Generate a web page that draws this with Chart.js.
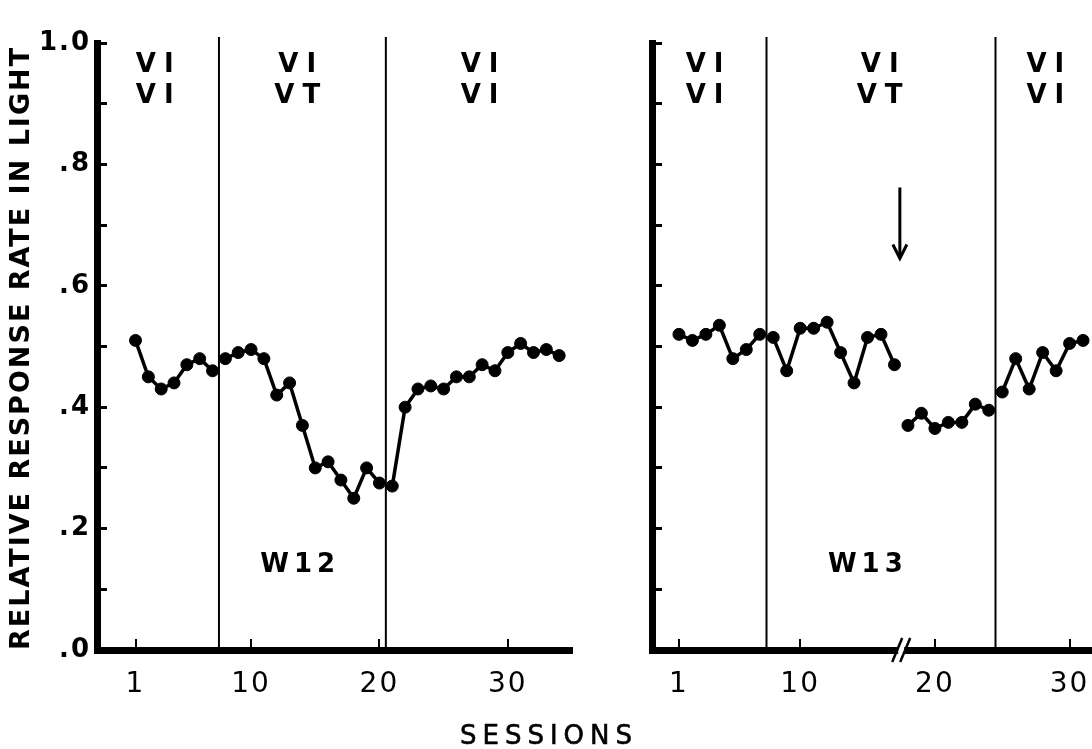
<!DOCTYPE html>
<html>
<head>
<meta charset="utf-8">
<script src="https://cdn.jsdelivr.net/npm/chart.js@4/dist/chart.umd.min.js"></script>
<style>
  html, body { margin: 0; padding: 0; background: #fff; overflow: hidden; width: 1092px; height: 749px; }
  #w12 { position: absolute; left: 0; top: 0; }
  #w13 { position: absolute; left: 600px; top: 0; }
  #sessions {
    position: absolute; left: 0; top: 722px; width: 1092px;
    text-align: center; font: 26px 'DejaVu Sans'; line-height: 1;
    letter-spacing: 6px; text-indent: 6px; color: #000;
    -webkit-text-stroke: 0.6px #000;
  }
</style>
</head>
<body>
<canvas id="w12" width="600" height="749"></canvas>
<canvas id="w13" width="520" height="749"></canvas>
<div id="sessions">SESSIONS</div>
<script>
// ---- values ----
const yTickLabels = ['.0', '.2', '.4', '.6', '.8', '1.0'];
const xTickValues = [1, 10, 20, 30];

// subject W12
const w12SessionsA = [1, 2, 3, 4, 5, 6, 7];
const w12RatesA = [0.51, 0.45, 0.43, 0.44, 0.47, 0.48, 0.46];
const w12SessionsB = [8, 9, 10, 11, 12, 13, 14, 15, 16, 17, 18, 19, 20];
const w12RatesB = [0.48, 0.49, 0.495, 0.48, 0.42, 0.44, 0.37, 0.30, 0.31, 0.28, 0.25, 0.30, 0.275];
const w12SessionsC = [21, 22, 23, 24, 25, 26, 27, 28, 29, 30, 31, 32, 33, 34];
const w12RatesC = [0.27, 0.40, 0.43, 0.435, 0.43, 0.45, 0.45, 0.47, 0.46, 0.49, 0.505, 0.49, 0.495, 0.485];

// subject W13
const w13SessionsA = [1, 2, 3, 4, 5, 6, 7];
const w13RatesA = [0.52, 0.51, 0.52, 0.535, 0.48, 0.495, 0.52];
const w13SessionsB = [8, 9, 10, 11, 12, 13, 14, 15, 16, 17];
const w13RatesB = [0.515, 0.46, 0.53, 0.53, 0.54, 0.49, 0.44, 0.515, 0.52, 0.47];
const w13SessionsC = [18, 19, 20, 21, 22, 23, 24];
const w13RatesC = [0.37, 0.39, 0.365, 0.375, 0.375, 0.405, 0.395];
const w13SessionsD = [25, 26, 27, 28, 29, 30, 31];
const w13RatesD = [0.425, 0.48, 0.43, 0.49, 0.46, 0.505, 0.51];

// schedule pairs for each phase, and where the phases change
const w12Conditions = [['VI', 'VI'], ['VI', 'VT'], ['VI', 'VI']];
const w13Conditions = [['VI', 'VI'], ['VI', 'VT'], ['VI', 'VI']];
const w12PhaseEnds = [7.5, 20.5];
const w13PhaseEnds = [7.5, 24.5];

const FONT = "'DejaVu Sans'";

function toPoints(xs, ys) {
    return xs.map((x, i) => ({ x: x, y: ys[i] }));
}

function lineSet(xs, ys) {
    return {
        data: toPoints(xs, ys),
        borderColor: '#000',
        backgroundColor: '#000',
        borderWidth: 3.5,
        pointRadius: 6,
        pointBackgroundColor: '#000',
        pointBorderColor: '#000',
        pointBorderWidth: 1,
        tension: 0
    };
}

// phase lines, schedule labels, subject name, axis break and arrow
const figureMarks = {
    id: 'figureMarks',
    beforeDraw(chart) {
        chart.ctx.letterSpacing = '2px';
    },
    afterDraw(chart, args, opts) {
        const { ctx, chartArea } = chart;
        const x = chart.scales.x, y = chart.scales.y;
        ctx.save();
        ctx.strokeStyle = '#000';
        ctx.fillStyle = '#000';

        ctx.lineWidth = 2;
        opts.phaseEnds.forEach(s => {
            const px = x.getPixelForValue(s);
            ctx.beginPath();
            ctx.moveTo(px, chartArea.top - 6);
            ctx.lineTo(px, chartArea.bottom);
            ctx.stroke();
        });

        ctx.font = 'bold 26px ' + FONT;
        ctx.textAlign = 'center';
        ctx.textBaseline = 'middle';
        ctx.letterSpacing = '8px';
        opts.conditions.forEach((c, i) => {
            const px = x.getPixelForValue(opts.labelAt[i]) + 4;
            ctx.fillText(c[0], px, y.getPixelForValue(0.963));
            ctx.fillText(c[1], px, y.getPixelForValue(0.913));
        });

        ctx.letterSpacing = '5px';
        ctx.fillText(opts.name, x.getPixelForValue(opts.nameAt[0]) + 3, y.getPixelForValue(opts.nameAt[1]));

        if (opts.breakAt != null) {
            const px = x.getPixelForValue(opts.breakAt);
            const py = chartArea.bottom;
            ctx.fillStyle = '#fff';
            ctx.fillRect(px - 3, py - 5, 6, 10);
            ctx.lineWidth = 2.5;
            [-4, 4].forEach(d => {
                ctx.beginPath();
                ctx.moveTo(px + d - 5, py + 12);
                ctx.lineTo(px + d + 5, py - 12);
                ctx.stroke();
            });
        }

        if (opts.arrow) {
            const px = x.getPixelForValue(opts.arrow.at);
            const y0 = y.getPixelForValue(opts.arrow.from);
            const y1 = y.getPixelForValue(opts.arrow.to);
            ctx.lineWidth = 3;
            ctx.beginPath();
            ctx.moveTo(px, y0);
            ctx.lineTo(px, y1);
            ctx.stroke();
            ctx.beginPath();
            ctx.moveTo(px - 7, y1 - 14);
            ctx.lineTo(px, y1);
            ctx.lineTo(px + 7, y1 - 14);
            ctx.stroke();
        }
        ctx.restore();
    }
};

function buildOptions(cfg) {
    return {
        responsive: false,
        animation: false,
        devicePixelRatio: 1,
        layout: { padding: { top: 43, right: cfg.padRight, left: 0, bottom: 0 } },
        plugins: {
            legend: { display: false },
            tooltip: { enabled: false },
            figureMarks: cfg.marks
        },
        scales: {
            x: {
                type: 'linear',
                min: cfg.xMin,
                max: cfg.xMax,
                afterBuildTicks: scale => { scale.ticks = xTickValues.map(v => ({ value: v })); },
                afterFit: scale => { scale.height = 99; },
                border: { display: true, width: 7, color: '#000' },
                grid: { drawOnChartArea: false, drawTicks: true, tickLength: -11, lineWidth: 2, color: '#000' },
                ticks: {
                    color: '#000',
                    padding: 29,
                    maxRotation: 0,
                    autoSkip: false,
                    font: { family: FONT, size: 28 },
                    callback: v => String(v)
                }
            },
            y: {
                min: 0,
                max: 1,
                afterFit: scale => { scale.width = cfg.yWidth; },
                border: { display: true, width: 7, color: '#000' },
                grid: { drawOnChartArea: false, drawTicks: true, tickLength: -10, lineWidth: 3, color: '#000' },
                title: cfg.yTitle,
                ticks: {
                    stepSize: 0.1,
                    color: '#000',
                    padding: 16,
                    font: { family: FONT, size: 26, weight: 'bold' },
                    callback: v => {
                        if (!cfg.showLabels) return '';
                        const i = Math.round(v * 10);
                        return i % 2 ? '' : yTickLabels[i / 2];
                    }
                }
            }
        }
    };
}

new Chart(document.getElementById('w12'), {
    type: 'line',
    data: {
        datasets: [
            lineSet(w12SessionsA, w12RatesA),
            lineSet(w12SessionsB, w12RatesB),
            lineSet(w12SessionsC, w12RatesC)
        ]
    },
    plugins: [figureMarks],
    options: buildOptions({
        xMin: -2, xMax: 35, padRight: 28, yWidth: 97, showLabels: true,
        yTitle: {
            display: true,
            text: 'RELATIVE RESPONSE RATE IN LIGHT',
            align: 'start',
            color: '#000',
            font: { family: FONT, size: 27, weight: 'bold' },
            padding: { top: 6, bottom: 0 }
        },
        marks: {
            phaseEnds: w12PhaseEnds,
            conditions: w12Conditions,
            labelAt: [2.5, 13.6, 27.8],
            name: 'W12',
            nameAt: [13.6, 0.14]
        }
    })
});

new Chart(document.getElementById('w13'), {
    type: 'line',
    data: {
        datasets: [
            lineSet(w13SessionsA, w13RatesA),
            lineSet(w13SessionsB, w13RatesB),
            lineSet(w13SessionsC, w13RatesC),
            lineSet(w13SessionsD, w13RatesD)
        ]
    },
    plugins: [figureMarks],
    options: buildOptions({
        xMin: -1, xMax: 33, padRight: 10, yWidth: 52, showLabels: false,
        yTitle: { display: false },
        marks: {
            phaseEnds: w13PhaseEnds,
            conditions: w13Conditions,
            labelAt: [2.9, 15.9, 28.2],
            name: 'W13',
            nameAt: [14.8, 0.14],
            breakAt: 17.5,
            arrow: { at: 17.4, from: 0.762, to: 0.645 }
        }
    })
});
</script>
</body>
</html>
